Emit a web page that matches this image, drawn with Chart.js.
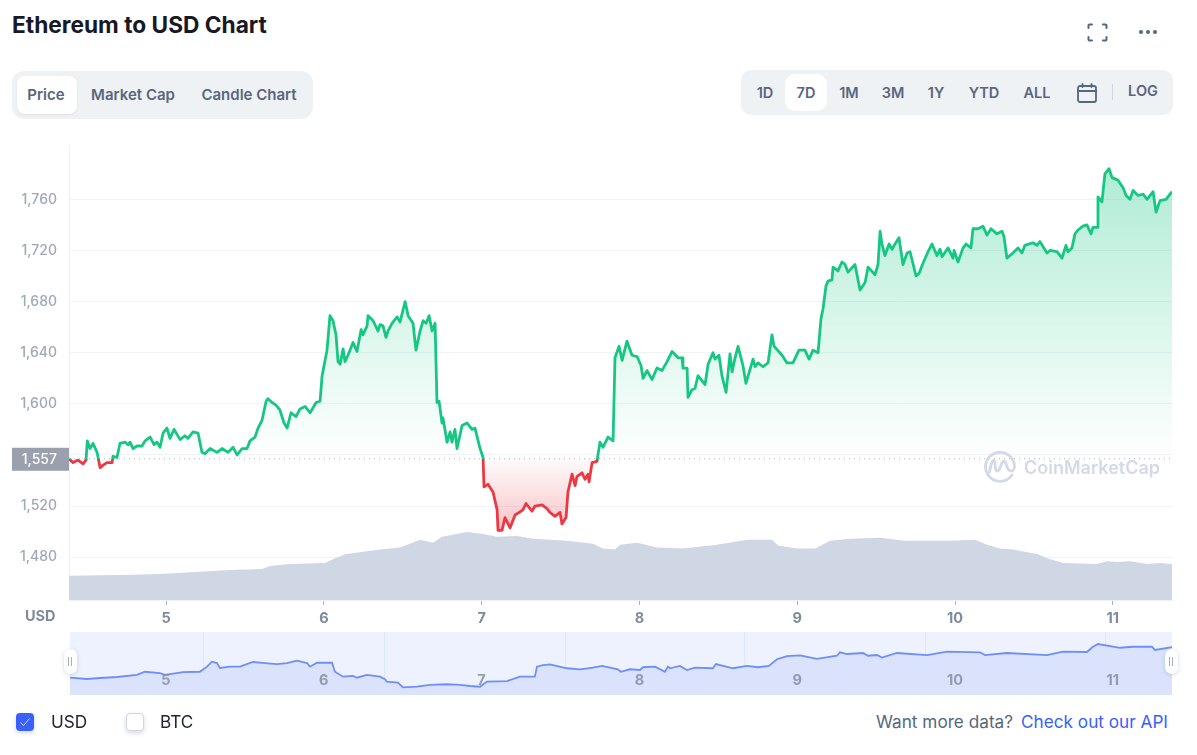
<!DOCTYPE html>
<html>
<head>
<meta charset="utf-8">
<title>Ethereum to USD Chart</title>
<script src="https://cdn.jsdelivr.net/npm/chart.js@4"></script>
<style>
  html, body { margin: 0; padding: 0; background: #fff; }
  body { width: 1197px; height: 755px; overflow: hidden; position: relative; font-family: Inter, sans-serif; color: #58667e; }
  .abs { position: absolute; }
  h1 { position: absolute; left: 12px; top: 11px; margin: 0; font-size: 22.7px; line-height: 28px; font-weight: 700; color: #171924; }
  .group { position: absolute; background: #eff2f5; }
  .btn { position: absolute; font-size: 14.5px; font-weight: 600; line-height: 20px; transform: translateX(-50%); white-space: nowrap; }
  .wide { font-size: 15px; }
  .active { position: absolute; background: #fff; border-radius: 8px; }
  #main { position: absolute; left: 0; top: 125px; }
  #miniWrap { position: absolute; left: 70px; top: 632px; width: 1102px; height: 63px; background: #eef2fe; }
  .handle { position: absolute; top: 649px; width: 13px; height: 25px; background: #fff; border-radius: 7px; box-shadow: 0 1px 4px rgba(88,102,126,.25); }
  .handle:after { content: ""; position: absolute; left: 4px; top: 8px; width: 2px; height: 9px; border-left: 1px solid #a6b0c3; border-right: 1px solid #a6b0c3; }
  .check { position: absolute; top: 713px; width: 18px; height: 18px; border-radius: 4px; box-sizing: border-box; box-shadow: 0 2px 5px rgba(88,102,126,.25); }
  .legend { position: absolute; top: 712px; font-size: 17.2px; line-height: 20px; color: #222531; }
  #cmc { position: absolute; left: 1024px; top: 456px; font-size: 18px; line-height: 24px; font-weight: 600; color: #d3d9e6; }
</style>
</head>
<body>
<h1>Ethereum to USD Chart</h1>

<svg class="abs" style="left:1087px;top:23px" width="21" height="19" viewBox="0 0 21 19" fill="none" stroke="#58667e" stroke-width="2" stroke-linecap="round" stroke-linejoin="round">
  <path d="M1.5 5V2.5a1 1 0 0 1 1-1H5M16 1.5h2.500a1 1 0 0 1 1 1V5M19.500 14v2.500a1 1 0 0 1-1 1H16M5 17.500H2.500a1 1 0 0 1-1-1V14"/>
</svg>
<svg class="abs" style="left:1138px;top:29px" width="20" height="6" viewBox="0 0 20 6" fill="#58667e">
  <circle cx="3" cy="3" r="2"/><circle cx="10" cy="3" r="2"/><circle cx="17" cy="3" r="2"/>
</svg>

<div class="group" style="left:12px;top:71px;width:301px;height:48px;border-radius:12px"></div>
<div class="active" style="left:17px;top:76px;width:60px;height:38px;box-shadow:0 1px 2px rgba(88,102,126,.12)"></div>
<div class="btn wide" style="left:46px;top:85px">Price</div>
<div class="btn wide" style="left:133px;top:85px">Market Cap</div>
<div class="btn wide" style="left:249px;top:85px">Candle Chart</div>

<div class="group" style="left:741px;top:70px;width:432px;height:45px;border-radius:10px"></div>
<div class="active" style="left:785px;top:74px;width:42px;height:37px;border-radius:10px"></div>
<div class="btn" style="left:765px;top:83px">1D</div>
<div class="btn" style="left:806px;top:83px">7D</div>
<div class="btn" style="left:849px;top:83px">1M</div>
<div class="btn" style="left:893px;top:83px">3M</div>
<div class="btn" style="left:936px;top:83px">1Y</div>
<div class="btn" style="left:984px;top:83px">YTD</div>
<div class="btn" style="left:1037px;top:83px">ALL</div>
<svg class="abs" style="left:1077px;top:83px" width="20" height="20" viewBox="0 0 20 20" fill="none" stroke="#58667e" stroke-width="1.800" stroke-linecap="round">
  <rect x="1" y="3" width="18" height="16" rx="2"/><path d="M1 8h18M5.500 1v3M14.500 1v3"/>
</svg>
<div class="abs" style="left:1112px;top:84px;width:1px;height:16px;background:#cfd6e4"></div>
<div class="btn" style="left:1143px;top:81px">LOG</div>

<canvas id="main" width="1197" height="510" style="width:1197px;height:510px"></canvas>
<div class="abs" style="left:25px;top:607px;font-size:14.5px;line-height:18px;font-weight:700;color:#808a9d">USD</div>

<svg class="abs" style="left:984px;top:451px" width="32" height="32" viewBox="0 0 32 32" fill="none" stroke="#d3d9e6" stroke-width="2.800" stroke-linecap="round" stroke-linejoin="round">
  <path d="M28 24A14.500 14.500 0 1 1 30.500 15.500C30.500 19 28 21 25.500 19.500C23.500 18.500 23 16 22 13C21 9 19.500 9 18 12L15.500 18C14 21 12 20.500 11.500 17.500L10.500 10C9.500 8.500 8 10 7 14L5.500 21"/>
</svg>
<div id="cmc">CoinMarketCap</div>

<div id="miniWrap"><canvas id="mini" width="1102" height="63" style="width:1102px;height:63px;display:block"></canvas></div>
<div class="handle" style="left:64px"></div>
<div class="handle" style="left:1165px"></div>

<div class="check" style="left:16px;background:#3861fb">
  <svg width="18" height="18" viewBox="0 0 18 18" fill="none" stroke="#cdd8ff" stroke-width="1"><path d="M4.500 9.500l3 3 6-7"/></svg>
</div>
<div class="legend" style="left:51px">USD</div>
<div class="check" style="left:126px;background:#fff;border:1px solid #cfd6e4"></div>
<div class="legend" style="left:160px">BTC</div>
<div class="legend" style="left:876px;color:#58667e">Want more data?</div>
<div class="legend" style="left:1021px;color:#3861fb">Check out our API</div>

<script>
const priceTimes = [4.385,4.411,4.442,4.474,4.493,4.501,4.518,4.537,4.563,4.582,4.601,4.626,4.658,4.664,4.689,4.708,4.740,4.759,4.772,4.791,4.816,4.848,4.867,4.899,4.924,4.943,4.962,4.981,5.006,5.025,5.051,5.089,5.120,5.139,5.171,5.203,5.228,5.247,5.279,5.323,5.355,5.393,5.425,5.450,5.482,5.513,5.532,5.564,5.583,5.608,5.634,5.646,5.672,5.697,5.722,5.748,5.767,5.792,5.824,5.849,5.881,5.913,5.951,5.976,5.989,6.020,6.039,6.058,6.077,6.090,6.103,6.122,6.134,6.153,6.185,6.210,6.236,6.248,6.274,6.280,6.312,6.343,6.356,6.375,6.394,6.407,6.432,6.464,6.483,6.515,6.534,6.565,6.584,6.610,6.629,6.648,6.667,6.686,6.705,6.717,6.730,6.749,6.755,6.781,6.800,6.812,6.831,6.844,6.876,6.907,6.939,6.958,6.990,7.009,7.015,7.040,7.072,7.098,7.104,7.129,7.148,7.180,7.212,7.262,7.281,7.319,7.338,7.383,7.414,7.433,7.465,7.497,7.509,7.535,7.547,7.573,7.592,7.604,7.636,7.655,7.674,7.681,7.700,7.731,7.750,7.769,7.801,7.833,7.845,7.871,7.890,7.921,7.953,7.985,8.010,8.023,8.048,8.080,8.111,8.143,8.175,8.207,8.245,8.270,8.276,8.302,8.308,8.333,8.352,8.371,8.416,8.435,8.466,8.479,8.504,8.523,8.549,8.574,8.587,8.606,8.625,8.656,8.675,8.720,8.733,8.751,8.783,8.815,8.840,8.853,8.904,8.935,8.973,9.011,9.049,9.075,9.100,9.132,9.151,9.163,9.182,9.195,9.220,9.227,9.258,9.284,9.303,9.322,9.366,9.398,9.430,9.449,9.493,9.512,9.525,9.537,9.556,9.582,9.601,9.620,9.645,9.670,9.696,9.715,9.753,9.772,9.797,9.829,9.854,9.886,9.905,9.918,9.956,9.987,9.994,10.019,10.051,10.070,10.101,10.114,10.146,10.177,10.203,10.228,10.266,10.298,10.310,10.329,10.367,10.399,10.424,10.443,10.494,10.519,10.538,10.583,10.602,10.646,10.678,10.703,10.716,10.741,10.760,10.779,10.811,10.836,10.862,10.874,10.900,10.906,10.931,10.950,10.976,10.995,11.033,11.065,11.084,11.109,11.128,11.160,11.192,11.217,11.255,11.274,11.299,11.337,11.375];
const priceValues = [1557,1554,1556,1553,1556,1571,1565,1569,1562,1550,1552,1554,1554,1559,1558,1569,1570,1568,1570,1565,1567,1567,1571,1574,1568,1570,1566,1577,1581,1573,1580,1572,1575,1573,1578,1577,1562,1561,1565,1562,1565,1562,1566,1560,1565,1565,1571,1574,1581,1587,1602,1604,1601,1599,1595,1585,1581,1593,1590,1596,1598,1593,1601,1602,1622,1642,1669,1665,1654,1633,1631,1643,1633,1638,1648,1641,1658,1654,1661,1669,1665,1657,1662,1661,1652,1657,1663,1668,1664,1680,1669,1663,1642,1657,1665,1663,1669,1657,1663,1601,1602,1585,1589,1570,1578,1570,1580,1565,1583,1585,1580,1581,1565,1558,1535,1537,1531,1517,1501,1501,1511,1503,1513,1517,1522,1516,1520,1521,1518,1515,1512,1515,1506,1511,1531,1545,1536,1543,1546,1541,1545,1539,1554,1555,1570,1566,1574,1571,1636,1645,1634,1649,1638,1637,1630,1620,1626,1619,1628,1626,1633,1641,1636,1636,1628,1628,1605,1611,1612,1622,1615,1631,1640,1635,1638,1622,1609,1639,1625,1636,1645,1630,1616,1635,1629,1632,1629,1632,1654,1645,1638,1632,1632,1642,1642,1635,1642,1640,1667,1674,1692,1696,1697,1707,1704,1711,1709,1703,1709,1689,1695,1707,1701,1709,1735,1725,1716,1725,1721,1725,1730,1709,1718,1719,1700,1702,1710,1719,1725,1716,1721,1715,1722,1714,1720,1711,1722,1725,1722,1737,1737,1739,1732,1737,1733,1735,1731,1714,1718,1722,1718,1724,1726,1724,1727,1718,1720,1719,1714,1724,1719,1722,1733,1736,1739,1740,1733,1738,1738,1762,1758,1780,1784,1777,1775,1769,1763,1760,1767,1763,1764,1760,1766,1750,1759,1760,1766];
const baselinePrice = 1557;

const volumeTimes = [4.385,4.791,4.994,5.215,5.406,5.608,5.659,5.786,6.008,6.071,6.134,6.356,6.483,6.610,6.692,6.749,6.907,7.009,7.098,7.224,7.326,7.541,7.706,7.769,7.845,7.877,7.985,8.111,8.276,8.491,8.682,8.840,8.878,8.998,9.113,9.208,9.334,9.525,9.683,9.968,10.127,10.203,10.285,10.367,10.526,10.583,10.684,10.900,10.963,11.027,11.109,11.217,11.299,11.375];
const volumeValues = [2.5,2.6,2.7,2.9,3.1,3.2,3.5,3.7,3.8,4.3,4.7,5.2,5.4,6.2,5.9,6.5,7.0,6.8,6.5,6.6,6.3,6.1,5.8,5.3,5.2,5.7,5.9,5.4,5.3,5.7,6.2,6.2,5.6,5.3,5.3,6.1,6.3,6.4,6.1,6.1,6.2,5.7,5.3,5.2,4.7,4.3,3.8,3.7,4.0,3.9,4.0,3.7,3.8,3.7];

// the overview strip has its own sampling, it does not line up with the day labels
const miniTimes = [4.392,4.499,4.582,4.689,4.816,4.867,4.962,4.994,5.108,5.215,5.260,5.292,5.323,5.342,5.406,5.469,5.551,5.627,5.703,5.767,5.830,5.894,5.913,5.957,6.052,6.071,6.122,6.185,6.210,6.274,6.356,6.388,6.400,6.470,6.502,6.591,6.673,6.781,6.863,6.926,6.990,7.034,7.161,7.243,7.338,7.351,7.389,7.433,7.541,7.624,7.706,7.763,7.864,7.883,7.940,8.004,8.023,8.099,8.162,8.181,8.194,8.257,8.302,8.352,8.466,8.485,8.593,8.682,8.751,8.821,8.872,8.935,9.018,9.125,9.252,9.271,9.316,9.417,9.449,9.506,9.537,9.632,9.823,9.949,10.158,10.190,10.329,10.583,10.684,10.836,10.874,10.906,11.046,11.128,11.248,11.267,11.375];
const miniValues = [1559,1550,1557,1564,1578,1600,1591,1578,1598,1600,1635,1669,1660,1626,1635,1635,1667,1660,1653,1660,1676,1660,1635,1662,1662,1600,1566,1571,1559,1578,1566,1548,1532,1525,1493,1497,1509,1514,1509,1502,1497,1532,1536,1566,1566,1635,1646,1651,1624,1617,1628,1640,1617,1600,1617,1612,1631,1635,1600,1635,1624,1640,1612,1628,1624,1653,1624,1640,1631,1640,1686,1708,1712,1688,1710,1734,1722,1729,1710,1715,1697,1729,1715,1738,1734,1715,1729,1715,1738,1736,1772,1791,1765,1772,1772,1750,1770];
const miniSplits = [5.241,6.382,7.529,8.663,9.810,10.951];

const dayTicks = [5,6,7,8,9,10,11];
const priceTicks = [1480,1520,1560,1600,1640,1680,1720,1760];

const green = '#16c784';
const red = '#ea3943';

function points(xs, ys) {
  return xs.map((x, i) => ({ x: x, y: ys[i] }));
}

// current price tag on the axis, sits on top of the hidden 1,560 label
const priceTag = {
  id: 'priceTag',
  afterDraw(chart) {
    const c = chart.ctx;
    const y = chart.scales.y.getPixelForValue(baselinePrice);
    c.save();
    c.fillStyle = '#9aa0ae';
    c.fillRect(12, y - 11, 57, 23);
    c.fillStyle = '#fff';
    c.font = '500 14px Inter';
    c.textAlign = 'right';
    c.textBaseline = 'middle';
    c.fillText(baselinePrice.toLocaleString('en-US'), 57, y + 1);
    c.restore();
  }
};

const mainChart = new Chart(document.getElementById('main'), {
  type: 'line',
  data: {
    datasets: [
      {
        label: 'USD',
        data: points(priceTimes, priceValues),
        borderColor: green,
        borderWidth: 2.8,
        borderJoinStyle: 'round',
        pointRadius: 0,
        tension: 0,
        fill: { target: { value: baselinePrice }, above: 'rgba(22,199,132,.2)', below: 'rgba(234,57,67,.2)' },
        yAxisID: 'y'
      },
      {
        label: 'baseline',
        data: [{ x: priceTimes[0], y: baselinePrice }, { x: priceTimes[priceTimes.length - 1], y: baselinePrice }],
        borderColor: '#a6b0c3',
        borderWidth: 1,
        borderDash: [1, 4],
        pointRadius: 0,
        fill: false,
        yAxisID: 'y'
      },
      {
        label: 'Volume',
        data: points(volumeTimes, volumeValues),
        borderWidth: 0,
        pointRadius: 0,
        tension: 0,
        backgroundColor: '#cfd6e4',
        fill: 'start',
        yAxisID: 'y1'
      }
    ]
  },
  options: {
    responsive: false,
    animation: false,
    events: [],
    layout: { autoPadding: false, padding: { top: 7, right: 25, left: 0, bottom: 0 } },
    plugins: { legend: { display: false }, tooltip: { enabled: false } },
    scales: {
      x: {
        type: 'linear',
        min: 4.385,
        max: 11.375,
        afterBuildTicks(axis) { axis.ticks = dayTicks.map(v => ({ value: v })); },
        afterFit(axis) { axis.height = 35; },
        border: { color: '#eff2f5' },
        grid: { drawOnChartArea: false, drawTicks: true, tickLength: 5, tickColor: '#a6b0c3' },
        ticks: { autoSkip: false, maxRotation: 0, padding: 5, color: '#808a9d', font: { family: 'Inter', size: 14.5, weight: '700' }, callback: v => String(v) }
      },
      y: {
        min: 1446.5,
        max: 1802.2,
        afterBuildTicks(axis) { axis.ticks = priceTicks.map(v => ({ value: v })); },
        afterFit(axis) { axis.width = 69; },
        border: { color: '#eff2f5' },
        grid: { color: '#f1f3f6', drawTicks: false },
        ticks: { autoSkip: false, padding: 12, color: '#a1a7bb', font: { family: 'Inter', size: 14, weight: '500' },
          callback: v => v === 1560 ? '' : v.toLocaleString('en-US') }
      },
      y1: { display: false, min: 0, max: 46.8 }
    }
  },
  plugins: [priceTag]
});

// gradients need the scale pixels, so they are set after the first layout
(function () {
  const area = mainChart.chartArea;
  const yScale = mainChart.scales.y;
  const c = mainChart.ctx;
  const base = yScale.getPixelForValue(baselinePrice);
  const stop = (base - area.top) / (area.bottom - area.top);

  const lineGrad = c.createLinearGradient(0, area.top, 0, area.bottom);
  lineGrad.addColorStop(0, green);
  lineGrad.addColorStop(stop, green);
  lineGrad.addColorStop(stop, red);
  lineGrad.addColorStop(1, red);

  const aboveGrad = c.createLinearGradient(0, yScale.getPixelForValue(1784), 0, base);
  aboveGrad.addColorStop(0, 'rgba(22,199,132,.34)');
  aboveGrad.addColorStop(1, 'rgba(22,199,132,0)');

  const belowGrad = c.createLinearGradient(0, base, 0, yScale.getPixelForValue(1501));
  belowGrad.addColorStop(0, 'rgba(234,57,67,.02)');
  belowGrad.addColorStop(1, 'rgba(234,57,67,.3)');

  const ds = mainChart.data.datasets[0];
  ds.borderColor = lineGrad;
  ds.fill = { target: { value: baselinePrice }, above: aboveGrad, below: belowGrad };
  mainChart.update('none');
})();

const miniLabels = {
  id: 'miniLabels',
  afterDatasetsDraw(chart) {
    const c = chart.ctx;
    c.save();
    c.fillStyle = 'rgba(128,138,157,.8)';
    c.font = '700 14.5px Inter';
    c.textAlign = 'center';
    c.textBaseline = 'middle';
    dayTicks.forEach(d => c.fillText(String(d), chart.scales.x.getPixelForValue(d), 49));
    c.restore();
  }
};

new Chart(document.getElementById('mini'), {
  type: 'line',
  data: {
    datasets: [{
      data: points(miniTimes, miniValues),
      borderColor: '#6f8ff8',
      borderWidth: 1.8,
      pointRadius: 0,
      tension: 0,
      backgroundColor: '#dae2fc',
      fill: 'start'
    }]
  },
  options: {
    responsive: false,
    animation: false,
    events: [],
    layout: { autoPadding: false, padding: 0 },
    plugins: { legend: { display: false }, tooltip: { enabled: false } },
    scales: {
      x: {
        type: 'linear',
        min: 4.392,
        max: 11.375,
        afterBuildTicks(axis) { axis.ticks = miniSplits.map(v => ({ value: v })); },
        border: { display: false },
        grid: { color: 'rgba(56,97,251,.08)', drawTicks: false },
        ticks: { display: false }
      },
      y: { display: false, min: 1440, max: 1873.5 }
    }
  },
  plugins: [miniLabels]
});
</script>
</body>
</html>
